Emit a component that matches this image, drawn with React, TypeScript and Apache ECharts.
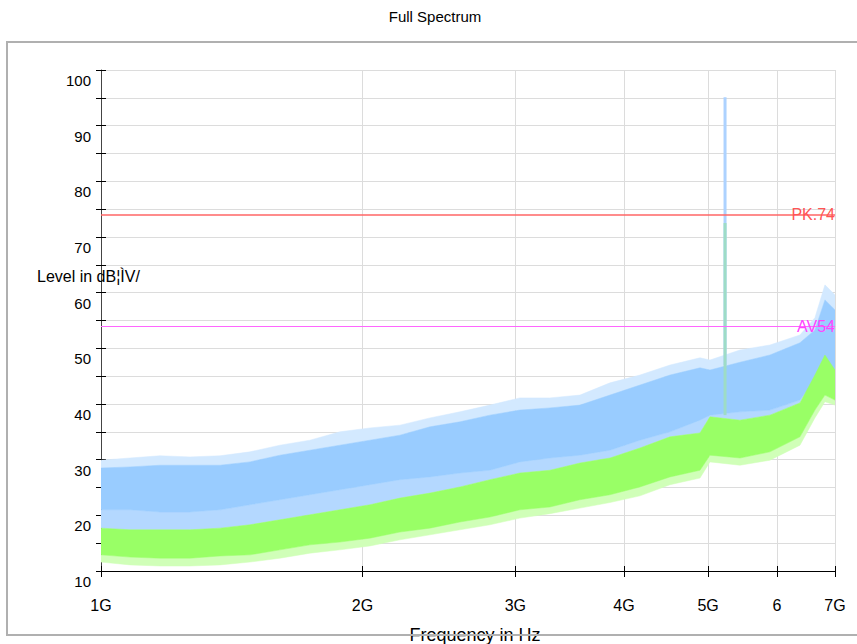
import React, { useEffect, useRef } from 'react';
import * as echarts from 'echarts';

// Frequency positions (GHz) at which the band envelopes were read
const freqGHz = [1.0, 1.08, 1.169, 1.266, 1.371, 1.484, 1.607, 1.74, 1.884, 2.04, 2.209, 2.392, 2.59, 2.804, 3.036, 3.288, 3.56, 3.855, 4.174, 4.52, 4.894, 5.025, 5.441, 5.891, 6.379, 6.637, 6.816, 7.0];
// Peak trace (blue): tips of the upward spikes, dense top and dense bottom, dBµV
const pkSpikeTop = [29.9, 30.3, 30.7, 30.5, 30.7, 31.4, 32.6, 33.5, 35.0, 35.7, 36.2, 37.5, 38.6, 39.8, 41.1, 41.1, 41.6, 43.8, 45.2, 47.0, 48.3, 47.9, 49.7, 50.6, 52.4, 55.5, 61.4, 59.6];
const pkTop = [28.5, 28.7, 29.0, 29.0, 29.0, 29.6, 30.8, 31.7, 32.6, 33.5, 34.4, 35.9, 36.8, 38.0, 38.9, 39.3, 39.8, 41.6, 43.4, 45.2, 46.5, 46.1, 47.5, 48.8, 51.0, 53.3, 58.7, 56.9];
const pkBottom = [21.0, 21.0, 20.6, 20.6, 21.0, 21.9, 22.8, 23.7, 24.6, 25.5, 26.4, 26.9, 27.6, 28.1, 29.6, 30.3, 30.8, 31.7, 33.5, 35.0, 37.1, 38.0, 38.6, 38.9, 40.7, 44.3, 47.0, 41.6];
// Average trace (green): dense top, dense bottom and tips of the downward spikes, dBµV
const avTop = [17.7, 17.4, 17.4, 17.4, 17.7, 18.3, 19.2, 20.1, 21.0, 21.9, 23.1, 24.0, 25.1, 26.4, 27.6, 28.1, 29.4, 30.3, 32.1, 34.1, 34.8, 37.7, 37.1, 38.0, 40.2, 45.2, 48.8, 46.1];
const avBottom = [12.9, 12.5, 12.3, 12.3, 12.7, 12.9, 13.8, 14.7, 15.2, 15.9, 17.0, 17.7, 18.8, 19.7, 21.0, 21.5, 22.8, 23.7, 25.1, 26.9, 28.1, 30.8, 30.3, 31.4, 34.1, 38.9, 41.6, 40.7];
const avSpikeBottom = [11.6, 11.1, 10.9, 10.9, 11.1, 11.6, 12.3, 13.2, 13.8, 14.5, 15.6, 16.5, 17.4, 18.3, 19.5, 20.3, 21.3, 22.3, 23.5, 25.5, 26.7, 29.6, 29.0, 29.9, 32.6, 37.5, 40.4, 39.8];

// Narrow carrier spike
const spikeGHz = 5.23;
const spikePkBase = 47;
const spikePk = 95.1;
const spikeAvBase = 38;
const spikeAv = 72.5;

// Limit lines
const limitPk = 74;
const limitAv = 54;
const limitPkLabel = 'PK.74';
const limitAvLabel = 'AV54';

// Axes
const xTicksGHz = [1, 2, 3, 4, 5, 6, 7];
const xTickLabels = ['1G', '2G', '3G', '4G', '5G', '6', '7G'];
const yMin = 10;
const yMax = 100;
const yStep = 5;

const FONT = '"Liberation Sans", Arial, Helvetica, sans-serif';

function bandRenderer(top: number[], bottom: number[], color: string) {
  return (params: any, api: any) => {
    const pts: number[][] = [];
    for (let i = 0; i < freqGHz.length; i++) pts.push(api.coord([freqGHz[i], top[i]]));
    for (let i = freqGHz.length - 1; i >= 0; i--) pts.push(api.coord([freqGHz[i], bottom[i]]));
    return {
      type: 'polygon',
      shape: { points: pts },
      style: { fill: color, stroke: color, lineWidth: 0.5 },
    };
  };
}

function band(name: string, top: number[], bottom: number[], color: string) {
  return {
    type: 'custom',
    name,
    xAxisIndex: 0,
    yAxisIndex: 0,
    clip: true,
    renderItem: bandRenderer(top, bottom, color),
    data: [[freqGHz[0], top[0]]],
    silent: true,
  };
}

function xLabel(v: number) {
  const idx = xTicksGHz.findIndex((t) => Math.abs(t - v) < 1e-6);
  return idx >= 0 ? xTickLabels[idx] : '';
}

export default function App() {
  const ref = useRef<HTMLDivElement>(null);
  useEffect(() => {
    document.body.style.margin = '0';
    const chart = echarts.init(ref.current!, null, { renderer: 'svg' });
    const option: any = {
      animation: false,
      backgroundColor: '#ffffff',
      textStyle: { fontFamily: FONT },
      grid: { left: 101, right: 22, top: 70, bottom: 73, containLabel: false },
      xAxis: [
        {
          type: 'log',
          logBase: 10,
          min: 1,
          max: 7,
          axisLine: { show: true, onZero: false, lineStyle: { color: '#000', width: 1 } },
          axisTick: { show: true, customValues: xTicksGHz, length: 6, lineStyle: { color: '#000' } },
          axisLabel: { customValues: xTicksGHz, formatter: xLabel, margin: 26, fontSize: 16, color: '#000', fontFamily: FONT },
          splitLine: { show: true, lineStyle: { color: '#dcdcdc', width: 1 } },
          minorTick: { show: false },
        },
        {
          type: 'log',
          logBase: 10,
          min: 1,
          max: 7,
          position: 'bottom',
          axisLine: { show: false },
          axisTick: { show: true, inside: true, customValues: xTicksGHz, length: 5, lineStyle: { color: '#000' } },
          axisLabel: { show: false },
          splitLine: { show: false },
        },
      ],
      yAxis: [
        {
          type: 'value',
          min: yMin,
          max: yMax,
          interval: yStep,
          axisLine: { show: true, onZero: false, lineStyle: { color: '#444', width: 1 } },
          axisTick: { show: true, length: 5, lineStyle: { color: '#000' } },
          axisLabel: {
            formatter: (v: number) => (v % 10 === 0 ? String(v) : ''),
            fontSize: 15,
            color: '#000',
            margin: 10,
            verticalAlign: 'top',
            padding: [3, 0, 0, 0],
            fontFamily: FONT,
          },
          splitLine: { show: true, lineStyle: { color: '#dcdcdc', width: 1 } },
        },
        {
          type: 'value',
          min: yMin,
          max: yMax,
          interval: yStep,
          position: 'left',
          axisLine: { show: false },
          axisTick: { show: true, inside: true, length: 5, lineStyle: { color: '#000' } },
          axisLabel: { show: false },
          splitLine: { show: false },
        },
      ],
      series: [
        band('PK spikes', pkSpikeTop, pkTop, '#d3e9ff'),
        band('PK mixed', pkBottom, avTop, '#b4d8ff'),
        band('PK', pkTop, pkBottom, '#99ccff'),
        band('AV spikes', avBottom, avSpikeBottom, '#d0ffb8'),
        band('AV', avTop, avBottom, '#99ff66'),
        {
          type: 'line',
          name: 'PK spike',
          xAxisIndex: 0,
          yAxisIndex: 0,
          symbol: 'none',
          lineStyle: { color: '#add2ff', width: 3 },
          data: [[spikeGHz, spikePkBase], [spikeGHz, spikePk]],
          silent: true,
        },
        {
          type: 'line',
          name: 'AV spike',
          xAxisIndex: 0,
          yAxisIndex: 0,
          symbol: 'none',
          lineStyle: { color: '#9edcc6', width: 3 },
          data: [[spikeGHz, spikeAvBase], [spikeGHz, spikeAv]],
          silent: true,
          markLine: {
            silent: true,
            symbol: 'none',
            data: [
              {
                yAxis: limitPk,
                lineStyle: { color: '#ff6666', width: 1.5, type: 'solid' },
                label: { formatter: limitPkLabel, position: 'insideEndBottom', distance: 0, verticalAlign: 'middle', color: '#ff5555', fontSize: 16, fontFamily: FONT },
              },
              {
                yAxis: limitAv,
                lineStyle: { color: '#ff66ff', width: 1, type: 'solid' },
                label: { formatter: limitAvLabel, position: 'insideEndBottom', distance: 0, verticalAlign: 'middle', color: '#ff44ff', fontSize: 16, fontFamily: FONT },
              },
            ],
          },
        },
      ],
      graphic: [
        {
          type: 'text',
          x: 435,
          y: 16,
          style: { text: 'Full Spectrum', font: '15px ' + FONT, fill: '#000', align: 'center', verticalAlign: 'middle' },
        },
        {
          type: 'text',
          x: 37,
          y: 276,
          style: { text: 'Level in dB¦ÌV/', font: '16px ' + FONT, fill: '#000', verticalAlign: 'middle' },
          z: 10,
        },
        {
          type: 'text',
          x: 475,
          y: 635,
          style: { text: 'Frequency in Hz', font: '18px ' + FONT, fill: '#000', align: 'center', verticalAlign: 'middle' },
          z: 10,
        },
        {
          type: 'rect',
          shape: { x: 7, y: 42, width: 862, height: 593 },
          style: { fill: 'none', stroke: '#b0b0b0', lineWidth: 2 },
          z: 20,
          silent: true,
        },
      ],
    };
    chart.setOption(option);
    return () => chart.dispose();
  }, []);
  return <div ref={ref} style={{ position: 'absolute', left: 0, top: 0, width: 857, height: 644 }} />;
}
